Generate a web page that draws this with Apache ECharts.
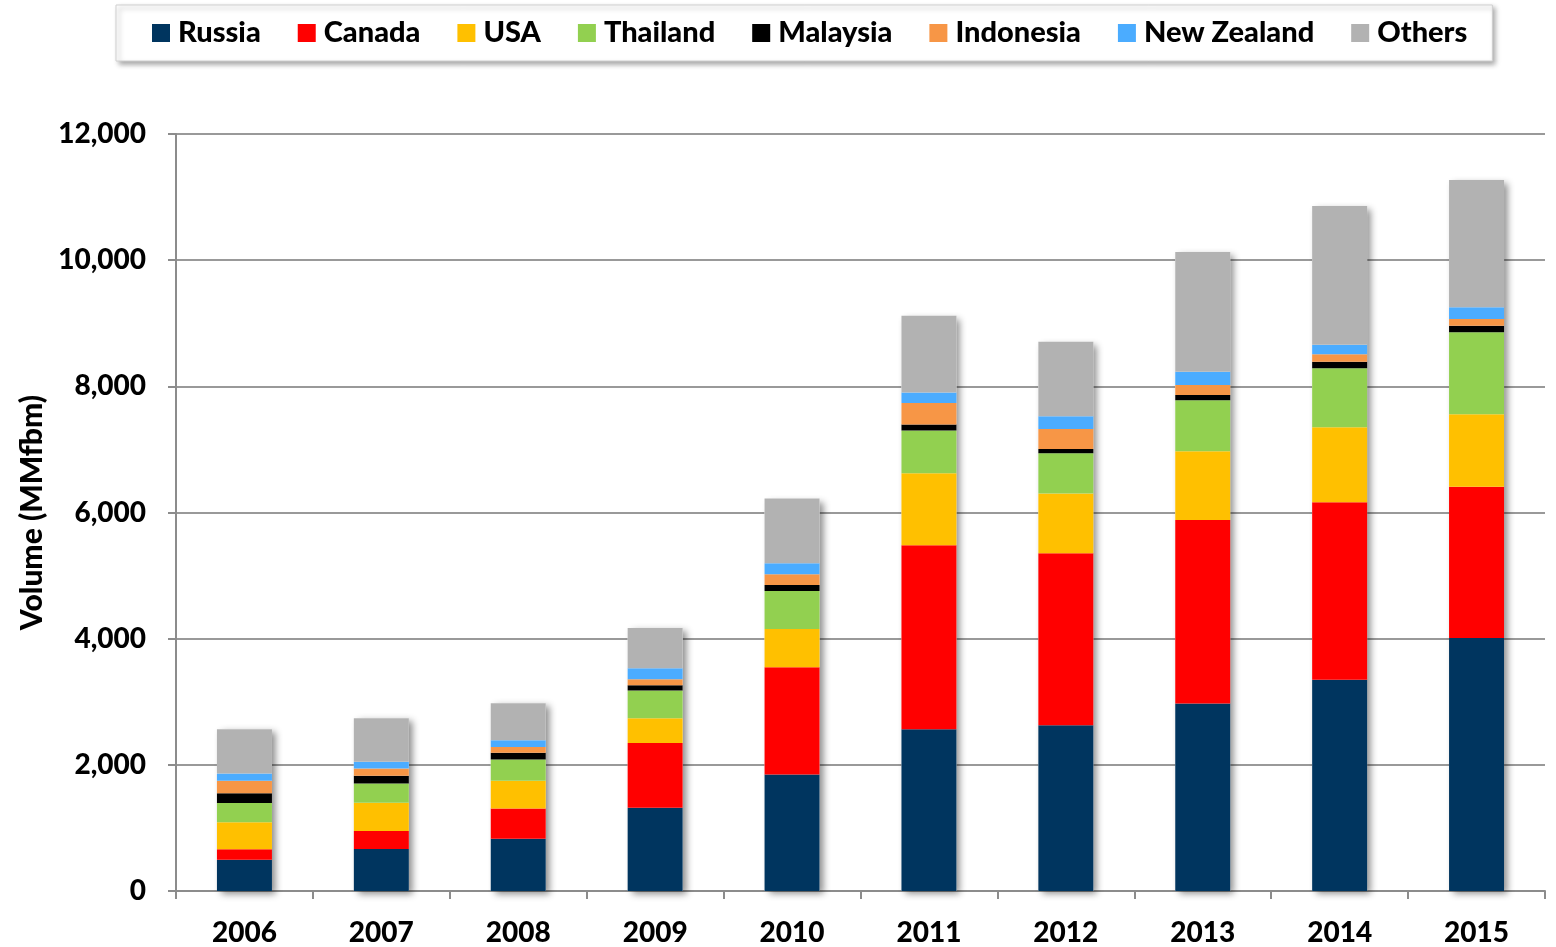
<!DOCTYPE html>
<html>
<head>
<meta charset="utf-8">
<script src="https://cdn.jsdelivr.net/npm/echarts@6/dist/echarts.min.js"></script>
<style>
html,body{margin:0;padding:0;background:#fff;}
#chart{width:1556px;height:947px;}
</style>
</head>
<body>
<div id="chart"></div>
<script>
const years = ['2006','2007','2008','2009','2010','2011','2012','2013','2014','2015'];
const russia    = [495, 665, 828, 1319, 1847, 2565, 2628, 2971, 3350, 4011];
const canada    = [165, 285, 481, 1029, 1699, 2917, 2728, 2910, 2814, 2396];
const usa       = [428, 448, 437, 391, 606, 1140, 945, 1091, 1186, 1152];
const thailand  = [305, 307, 339, 438, 602, 676, 638, 808, 938, 1300];
const malaysia  = [158, 120, 105, 84, 95, 95, 69, 84, 102, 101];
const indonesia = [195, 117, 94, 95, 174, 343, 317, 158, 118, 108];
const newZealand= [117, 105, 106, 174, 174, 168, 200, 210, 153, 186];
const others    = [702, 692, 586, 638, 1024, 1215, 1182, 1898, 2198, 2017];
const yTicks = [0, 2000, 4000, 6000, 8000, 10000, 12000];

const seriesDefs = [
  ['Russia', russia, '#00355F'],
  ['Canada', canada, '#FF0000'],
  ['USA', usa, '#FFC000'],
  ['Thailand', thailand, '#92D050'],
  ['Malaysia', malaysia, '#000000'],
  ['Indonesia', indonesia, '#F79646'],
  ['New Zealand', newZealand, '#4BACFF'],
  ['Others', others, '#B2B2B2']
];
const totals = years.map((_, i) => seriesDefs.reduce((s, d) => s + d[1][i], 0));

const font = 'Lato, "Open Sans", sans-serif';
const chart = echarts.init(document.getElementById('chart'), null, {renderer: 'canvas'});

const series = [{
  name: '_shadow',
  type: 'bar',
  stack: 'shadow',
  data: totals,
  barWidth: 55,
  barGap: '-100%',
  silent: true,
  z: 1,
  itemStyle: {
    color: '#ffffff',
    shadowColor: 'rgba(0,0,0,0.45)',
    shadowBlur: 7,
    shadowOffsetX: 4,
    shadowOffsetY: 3
  }
}].concat(seriesDefs.map(d => ({
  name: d[0],
  type: 'bar',
  stack: 'total',
  data: d[1],
  barWidth: 55,
  z: 2,
  itemStyle: { color: d[2] }
})));

chart.setOption({
  animation: false,
  backgroundColor: '#ffffff',
  legend: {
    data: seriesDefs.map(d => d[0]),
    left: 116,
    top: 5,
    padding: [11, 25, 11, 36],
    itemGap: 37,
    itemWidth: 18,
    itemHeight: 18,
    icon: 'rect',
    backgroundColor: '#ffffff',
    borderColor: '#cfcfcf',
    borderWidth: 1,
    shadowColor: 'rgba(0,0,0,0.35)',
    shadowBlur: 5,
    shadowOffsetX: 3,
    shadowOffsetY: 3,
    textStyle: { fontFamily: font, fontWeight: 900, fontSize: 29, lineHeight: 31, color: '#000', padding: [3,0,0,3] }
  },
  grid: { left: 176, right: 11, top: 134, bottom: 55, containLabel: false },
  xAxis: {
    type: 'category',
    data: years,
    axisLine: { lineStyle: { color: '#8c8c8c', width: 2 } },
    axisTick: { show: true, length: 8, lineStyle: { color: '#8c8c8c', width: 2 } },
    axisLabel: { fontFamily: font, fontWeight: 900, fontSize: 28, color: '#000', margin: 28 }
  },
  yAxis: {
    type: 'value',
    min: 0,
    max: 12000,
    interval: 2000,
    name: 'Volume (MMfbm)',
    nameLocation: 'middle',
    nameGap: 129,
    nameTextStyle: { fontFamily: font, fontWeight: 900, fontSize: 30, color: '#000' },
    axisLine: { show: true, lineStyle: { color: '#8c8c8c', width: 2 } },
    axisTick: { show: true, length: 8, lineStyle: { color: '#8c8c8c', width: 2 } },
    splitLine: { lineStyle: { color: '#999999', width: 2 } },
    axisLabel: {
      fontFamily: font, fontWeight: 900, fontSize: 28, color: '#000', margin: 30,
      formatter: v => yTicks.includes(v) ? v.toLocaleString('en-US') : ''
    }
  },
  series: series
});
</script>
</body>
</html>
